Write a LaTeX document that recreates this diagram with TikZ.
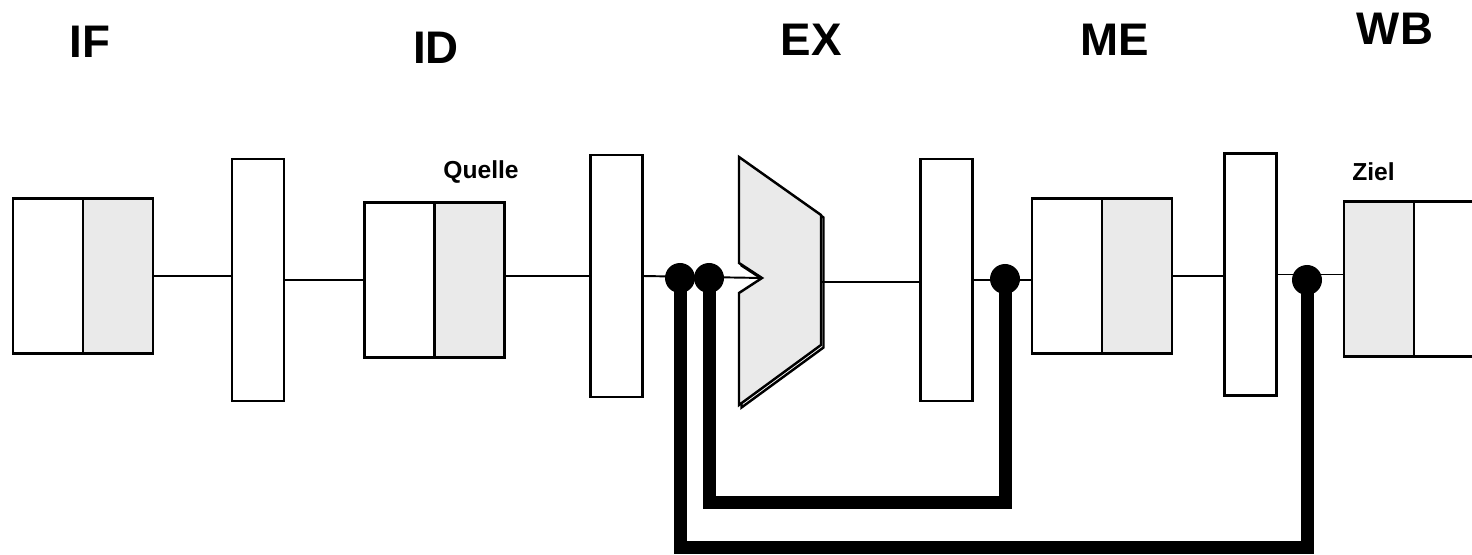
\documentclass[tikz,border=0pt]{standalone}
\usepackage{fontspec}
\setsansfont{Liberation Sans}
\usepackage{xcolor}
\usepackage{tikz}
\usetikzlibrary{calc,positioning}
\definecolor{cellGray}{HTML}{EAEAEA}

\begin{document}
\begin{tikzpicture}[
  every node/.style={font=\sffamily},
  cell/.style={draw, line width=1.5pt, minimum width=1.4cm,
    minimum height=3.1cm, inner sep=0pt, outer sep=0pt},
  cellL/.style={cell, fill=white},
  cellG/.style={cell, fill=cellGray},
  latch/.style={draw, line width=1.4pt, fill=white, minimum width=1.04cm,
    minimum height=4.84cm, inner sep=0pt, outer sep=0pt},
  wire/.style={line width=1.1pt},
  fwd/.style={line width=0.26cm},
  fwddot/.style={circle, fill=black, minimum size=0.6cm, inner sep=0pt},
  stagelabel/.style={font=\sffamily\fontsize{26}{30}\selectfont\bfseries,
    inner sep=0pt},
  reglabel/.style={font=\sffamily\fontsize{14}{16}\selectfont\bfseries,
    inner sep=0pt},
]
\useasboundingbox (0,0) rectangle (29.44,11.08);

% Stage labels
\node[stagelabel] (lblIF) at (1.80, 10.24) {IF};
\node[stagelabel] (lblID) at (8.72, 10.12) {ID};
\node[stagelabel] (lblEX) at (16.22, 10.28) {EX};
\node[stagelabel] (lblME) at (22.30, 10.28) {ME};
\node[stagelabel] (lblWB) at (27.90, 10.50) {WB};

% Stage boxes
\node[cellL] (ifL) at (0.96, 5.56) {};
\node[cellG, right=0pt of ifL] (ifR) {};
\node[cellL] (idL) at (7.99, 5.48) {};
\node[cellG, right=0pt of idL] (idR) {};
\node[cellL] (meL) at (21.34, 5.56) {};
\node[cellG, right=0pt of meL] (meR) {};
\node[cellG] (wbL) at (27.58, 5.50) {};
\node[cellL, right=0pt of wbL] (wbR) {};

\node[reglabel] (src) at (9.62, 7.64) {Quelle};
\node[reglabel] (dst) at (27.47, 7.65) {Ziel};

% Pipeline latches
\node[latch] (l1) at (5.16, 5.48) {};
\node[latch] (l2) at (12.33, 5.56) {};
\node[latch] (l3) at (18.93, 5.48) {};
\node[latch] (l4) at (25.01, 5.59) {};

% ALU
\coordinate (aluIn) at (15.24, 5.52);
\coordinate (aluOut) at (16.42, 5.44);
\draw[line width=1.4pt, shift={(0.05,-0.05)}]
  (14.78,7.94) -- (16.42,6.78) -- (16.42,4.18) -- (14.78,2.98)
  -- (14.78,5.22) -- (15.24,5.52) -- (14.78,5.82) -- cycle;
\draw[line width=1.4pt, fill=cellGray]
  (14.78,7.94) -- (16.42,6.78) -- (16.42,4.18) -- (14.78,2.98)
  -- (14.78,5.22) -- (aluIn) -- (14.78,5.82) -- cycle;

% Wires
\draw[wire] (ifR.east) -- (ifR.east -| l1.west);
\draw[wire] (l1.east) -- (l1.east -| idL.west);
\draw[wire] (l2.west) -- (l2.west -| idR.east);
\draw[wire] (l2.east) -- (aluIn);
\draw[wire] (aluOut) -- (aluOut -| l3.west);
\draw[wire] (l3.east) -- (l3.east -| meL.west);
\draw[wire] (meR.east) -- (meR.east -| l4.west);
\draw[wire] (l4.east) -- (l4.east -| wbL.west);

% Forwarding taps
\node[fwddot] (d1) at (13.60, 5.52) {};
\node[fwddot] (d2) at (14.18, 5.52) {};
\node[fwddot] (d3) at (20.10, 5.50) {};
\node[fwddot] (d4) at (26.14, 5.48) {};

% Forwarding paths
\coordinate (fwdA) at (17.00, 1.04);
\coordinate (fwdB) at (19.90, 0.13);
\draw[fwd] (d2.center) |- (fwdA) -| (d3.center);
\draw[fwd] (d1.center) |- (fwdB) -| (d4.center);

\end{tikzpicture}
\end{document}
